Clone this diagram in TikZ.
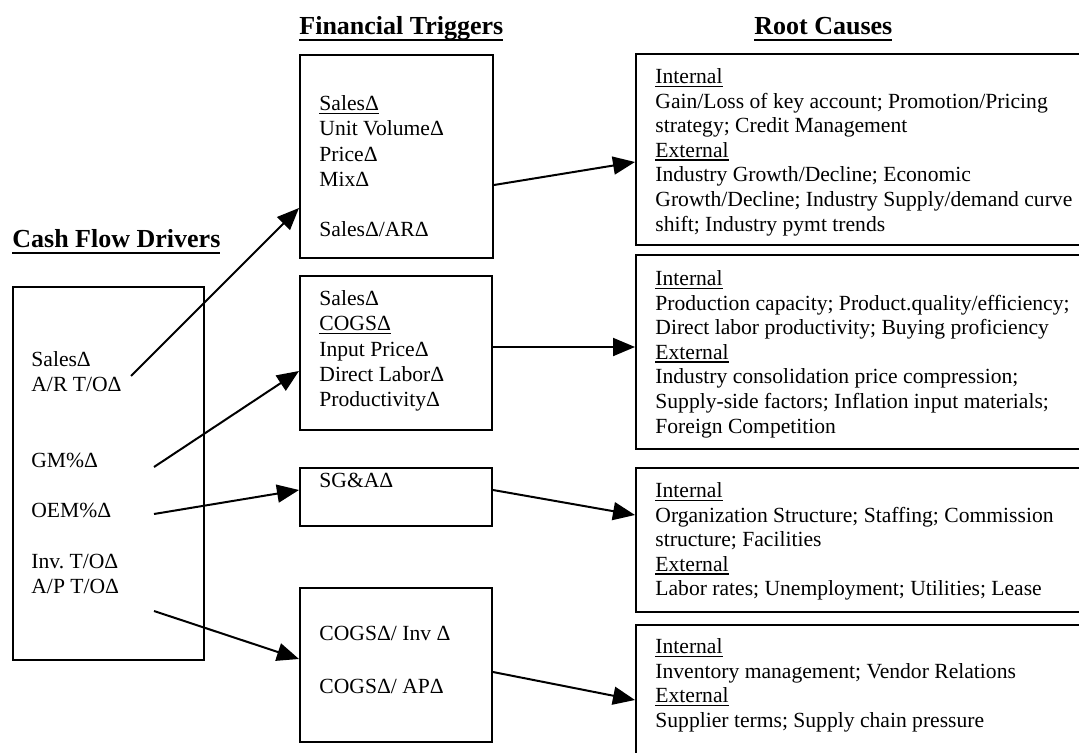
\documentclass[tikz,border=0pt]{standalone}
\usepackage{fontspec}
\setmainfont{Liberation Serif}
\usetikzlibrary{arrows.meta,calc}
\frenchspacing
\newcommand{\ulin}[1]{\setbox0\hbox{#1}\rlap{\rule[-1.7pt]{\wd0}{0.6pt}}\box0}
\newcommand{\ulhead}[1]{\setbox0\hbox{#1}\rlap{\rule[-3pt]{\wd0}{1pt}}\box0}
\begin{document}
\begin{tikzpicture}[x=0.5pt,y=-0.5pt,
  box/.style={draw, line width=1pt, inner sep=0pt, anchor=north west},
  ftxt/.style={anchor=north west, inner sep=0pt, align=left, font=\fontsize{10.8}{12.65}\selectfont},
  rtxt/.style={anchor=north west, inner sep=0pt, align=left, font=\fontsize{10.8}{12.3}\selectfont},
  head/.style={anchor=base west, inner sep=0pt, font=\fontsize{13}{15}\bfseries\selectfont},
  arr/.style={line width=1pt, -{Triangle[length=11pt,width=9pt]}}]
\useasboundingbox (0,0) rectangle (1079,753);
\clip (0,0) rectangle (1079,753);
% headings
\node[head] (hft) at (299,35) {\ulhead{Financial Triggers}};
\node[head] (hrc) at (754,35) {\ulhead{Root Causes}};
\node[head] (hcf) at (12,248) {\ulhead{Cash Flow Drivers}};
% cash flow drivers box
\node[box, minimum width=95.5pt, minimum height=186.5pt] (cf) at (12,286) {};
\node[ftxt] (cfSales) at (31,348.3) {\strut SalesΔ\\A/R T/OΔ};
\node[ftxt] (cfGM) at (31,449.3) {\strut GM\%Δ};
\node[ftxt] (cfOEM) at (31,499.3) {\strut OEM\%Δ};
\node[ftxt] (cfInv) at (31,550.3) {\strut Inv. T/OΔ\\A/P T/OΔ};
% financial triggers
\node[box, minimum width=96.5pt, minimum height=101.5pt] (ft1) at (299,54) {};
\node[ftxt] (ft1t) at (319,92.3) {\strut\ulin{SalesΔ}\\Unit VolumeΔ\\PriceΔ\\MixΔ\\[12.65pt]SalesΔ/ARΔ};
\node[box, minimum width=96pt, minimum height=77pt] (ft2) at (299,275) {};
\node[ftxt] (ft2t) at (319,287.3) {\strut SalesΔ\\\ulin{COGSΔ}\\Input PriceΔ\\Direct LaborΔ\\ProductivityΔ};
\node[box, minimum width=96pt, minimum height=29pt] (sga) at (299,467) {};
\node[ftxt] (sgat) at (319,469.3) {\strut SG\&AΔ};
\node[box, minimum width=96pt, minimum height=77pt] (cogs) at (299,587) {};
\node[ftxt] (cogst) at (319,622.3) {\strut COGSΔ/ Inv Δ\\[14pt]COGSΔ/ APΔ};
% root causes
\node[box, minimum width=232.5pt, minimum height=95.5pt] (rc1) at (635,53) {};
\node[rtxt] (rc1t) at (655,65.8) {\strut\ulin{Internal}\\Gain/Loss of key account; Promotion/Pricing\\strategy; Credit Management\\\ulin{External}\\Industry Growth/Decline; Economic\\Growth/Decline; Industry Supply/demand curve\\shift; Industry pymt trends};
\node[box, minimum width=232.5pt, minimum height=97pt] (rc2) at (635,254) {};
\node[rtxt] (rc2t) at (655,267.8) {\strut\ulin{Internal}\\Production capacity; Product.quality/efficiency;\\Direct labor productivity; Buying proficiency\\\ulin{External}\\Industry consolidation price compression;\\Supply-side factors; Inflation input materials;\\Foreign Competition};
\node[box, minimum width=232.5pt, minimum height=72pt] (rc3) at (635,467) {};
\node[rtxt] (rc3t) at (655,479.8) {\strut\ulin{Internal}\\Organization Structure; Staffing; Commission\\structure; Facilities\\\ulin{External}\\Labor rates; Unemployment; Utilities; Lease};
\node[box, minimum width=232.5pt, minimum height=83pt] (rc4) at (635,624) {};
\node[rtxt] (rc4t) at (655,635.8) {\strut\ulin{Internal}\\Inventory management; Vendor Relations\\\ulin{External}\\Supplier terms; Supply chain pressure};
% connector start points
\coordinate (s1) at (131,376);
\coordinate (s2) at (154,467);
\coordinate (s3) at (154,514);
\coordinate (s4) at (154,611);
% connectors
\draw[arr] (s1) -- ($(ft1.north west)+(0,154)$);
\draw[arr] (s2) -- ($(ft2.north west)+(0,96)$);
\draw[arr] (s3) -- ($(sga.north west)+(0,23)$);
\draw[arr] (s4) -- ($(cogs.north west)+(0,72)$);
\draw[arr] ($(ft1.north east)+(0,131)$) -- ($(rc1.north west)+(0,109)$);
\draw[arr] ($(ft2.north east)+(0,72)$) -- ($(rc2.north west)+(0,93)$);
\draw[arr] ($(sga.north east)+(0,23)$) -- ($(rc3.north west)+(0,48)$);
\draw[arr] ($(cogs.north east)+(0,85)$) -- ($(rc4.north west)+(0,76)$);
\end{tikzpicture}
\end{document}
